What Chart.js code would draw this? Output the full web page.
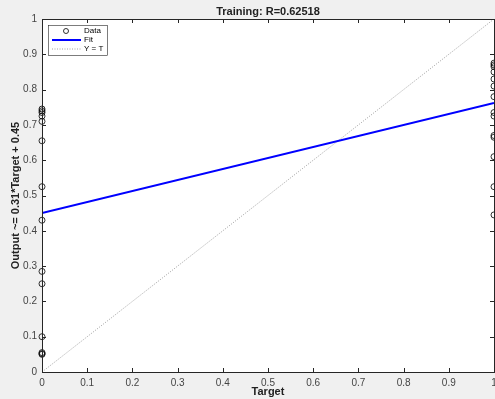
<!DOCTYPE html>
<html>
<head>
<meta charset="utf-8">
<script src="https://cdn.jsdelivr.net/npm/chart.js@4/dist/chart.umd.min.js"></script>
<style>
  html, body { margin: 0; padding: 0; background: #f0f0f0; }
  #wrap { width: 495px; height: 399px; }
</style>
</head>
<body>
<div id="wrap"><canvas id="plot"></canvas></div>
<script>
// outputs for samples whose target is 0 and whose target is 1
const outputsAtTarget0 = [0.745, 0.74, 0.735, 0.725, 0.71, 0.655, 0.525, 0.43, 0.285, 0.25, 0.10, 0.055, 0.052, 0.05];
const outputsAtTarget1 = [0.875, 0.87, 0.865, 0.85, 0.83, 0.81, 0.78, 0.735, 0.725, 0.67, 0.665, 0.61, 0.525, 0.445];
const fitX = [0, 1];
const fitY = [0.45, 0.762];
const identX = [0, 1];
const identY = [0, 1];
const tickValues = [0, 0.1, 0.2, 0.3, 0.4, 0.5, 0.6, 0.7, 0.8, 0.9, 1];

const FONT = "'Liberation Sans', Arial, sans-serif";

const dataPoints = [
  ...outputsAtTarget0.map((y) => ({ x: 0, y })),
  ...outputsAtTarget1.map((y) => ({ x: 1, y })),
];

const fmtTick = (v) => String(Math.round(v * 10) / 10);

// MATLAB style: box round the axes and ticks pointing inward on all sides
const boxTicks = {
  id: "boxTicks",
  afterDatasetsDraw(chart) {
    const { ctx, chartArea: a, scales } = chart;
    ctx.save();
    ctx.strokeStyle = "#262626";
    ctx.lineWidth = 1;
    ctx.beginPath();
    tickValues.forEach((v) => {
      const px = Math.round(scales.x.getPixelForValue(v)) + 0.5;
      const py = Math.round(scales.y.getPixelForValue(v)) + 0.5;
      ctx.moveTo(px, a.bottom); ctx.lineTo(px, a.bottom - 4);
      ctx.moveTo(px, a.top); ctx.lineTo(px, a.top + 4);
      ctx.moveTo(a.left, py); ctx.lineTo(a.left + 4, py);
      ctx.moveTo(a.right, py); ctx.lineTo(a.right - 4, py);
    });
    ctx.stroke();
    ctx.strokeRect(Math.round(a.left) + 0.5, Math.round(a.top) + 0.5,
      Math.round(a.right - a.left), Math.round(a.bottom - a.top));
    ctx.restore();
  },
};

// legend box inside the top-left of the axes
const insetLegend = {
  id: "insetLegend",
  afterDraw(chart) {
    const { ctx, chartArea: a } = chart;
    const x0 = a.left + 6, y0 = a.top + 6, w = 59, h = 30;
    ctx.save();
    ctx.fillStyle = "#fff";
    ctx.fillRect(x0, y0, w, h);
    ctx.strokeStyle = "#262626";
    ctx.lineWidth = 0.6;
    ctx.strokeRect(x0 + 0.5, y0 + 0.5, w, h);
    ctx.font = "8px " + FONT;
    ctx.textBaseline = "middle";
    chart.data.datasets.forEach((ds, i) => {
      const cy = y0 + 6 + i * 9;
      ctx.strokeStyle = ds.borderColor;
      ctx.lineWidth = ds.borderWidth;
      ctx.setLineDash(ds.borderDash || []);
      ctx.beginPath();
      if (ds.showLine === false) {
        ctx.arc(x0 + 18, cy, 2.5, 0, Math.PI * 2);
      } else {
        ctx.moveTo(x0 + 4, cy); ctx.lineTo(x0 + 33, cy);
      }
      ctx.stroke();
      ctx.setLineDash([]);
      ctx.fillStyle = "#000";
      ctx.fillText(ds.label, x0 + 36, cy);
    });
    ctx.restore();
  },
};

function noSidePadding(s) {
  s.height = 27;
  s.paddingLeft = 0;
  s.paddingRight = 0;
}

new Chart(document.getElementById("plot"), {
  type: "scatter",
  data: {
    datasets: [
      {
        label: "Data",
        data: dataPoints,
        showLine: false,
        pointStyle: "circle",
        pointRadius: 3,
        pointBorderWidth: 0.8,
        borderWidth: 0.8,
        borderColor: "#000",
        backgroundColor: "rgba(0,0,0,0)",
        clip: false,
        order: 0,
      },
      {
        label: "Fit",
        data: fitX.map((x, i) => ({ x, y: fitY[i] })),
        showLine: true,
        borderColor: "#0000ff",
        borderWidth: 2,
        pointRadius: 0,
        order: 1,
      },
      {
        label: "Y = T",
        data: identX.map((x, i) => ({ x, y: identY[i] })),
        showLine: true,
        borderColor: "#a0a0a0",
        borderWidth: 1,
        borderDash: [1, 1.5],
        pointRadius: 0,
        order: 2,
      },
    ],
  },
  options: {
    responsive: true,
    maintainAspectRatio: false,
    animation: false,
    layout: { autoPadding: false, padding: { top: 0, right: 1, left: 0, bottom: 0 } },
    scales: {
      x: {
        type: "linear",
        min: 0,
        max: 1,
        afterFit: noSidePadding,
        afterBuildTicks: (s) => { s.ticks = tickValues.map((value) => ({ value })); },
        grid: { display: false, drawTicks: false },
        border: { display: false },
        ticks: { padding: 5, color: "#444", font: { family: FONT, size: 10 }, maxRotation: 0, callback: fmtTick },
        title: { display: true, text: "Target", color: "#222", padding: { top: 0, bottom: 0 },
          font: { family: FONT, size: 11, weight: "bold", lineHeight: 1.2 } },
      },
      y: {
        type: "linear",
        min: 0,
        max: 1,
        afterFit: (s) => { s.width = 42; s.paddingTop = 0; s.paddingBottom = 0; },
        afterBuildTicks: (s) => { s.ticks = tickValues.map((value) => ({ value })); },
        grid: { display: false, drawTicks: false },
        border: { display: false },
        ticks: { padding: 5, color: "#444", font: { family: FONT, size: 10 }, callback: fmtTick },
        title: { display: true, text: "Output ~= 0.31*Target + 0.45", color: "#222", padding: { top: 9, bottom: 0 },
          font: { family: FONT, size: 11, weight: "bold", lineHeight: 1.2 } },
      },
    },
    plugins: {
      legend: { display: false },
      tooltip: { enabled: false },
      title: {
        display: true,
        fullSize: false,
        text: "Training: R=0.62518",
        color: "#222",
        padding: { top: 6, bottom: 2 },
        font: { family: FONT, size: 11, weight: "bold", lineHeight: 1 },
      },
    },
  },
  plugins: [
    {
      id: "plotBg",
      beforeDraw(chart) {
        const { ctx, chartArea: a } = chart;
        ctx.save();
        ctx.fillStyle = "#fff";
        ctx.fillRect(a.left, a.top, a.right - a.left, a.bottom - a.top);
        ctx.restore();
      },
    },
    boxTicks,
    insetLegend,
  ],
});
</script>
</body>
</html>
